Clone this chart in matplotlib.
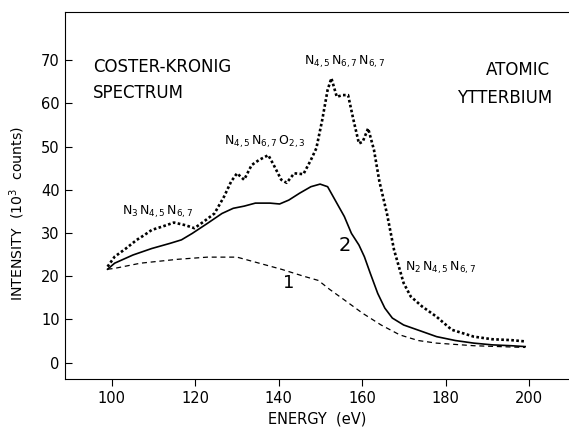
import numpy as np
import matplotlib
matplotlib.use("Agg")
import matplotlib.pyplot as plt

plt.rcParams['font.family'] = ['DejaVu Sans']
plt.rcParams['mathtext.fontset'] = 'dejavusans'

# measured spectrum (dots)
e_meas = [99, 100.7, 103.4, 106, 107.8, 109.6, 112.2, 114.9, 117.6, 119.8, 122, 124.6,
          126.9, 128.6, 130, 131.7, 133.5, 135.3, 137.5, 138.8, 140.6, 141.9, 143.7,
          145.9, 147.7, 149, 150.4, 151.7, 152.6, 153.9, 155.3, 156.6, 157.9, 159.2,
          160.1, 161.4, 162.8, 164.1, 165.9, 167.6, 169.9, 171.6, 174.3, 177.8, 181.4,
          186.7, 191.1, 195.6, 199]
i_meas = [22.2, 24.5, 26.4, 28.4, 29.5, 30.7, 31.5, 32.4, 31.8, 31.1, 32.6, 34.5,
          38.4, 41.9, 43.8, 42.3, 45.7, 46.9, 48.0, 45.7, 42.3, 41.6, 43.8,
          43.6, 46.9, 49.6, 56.1, 63.1, 65.8, 61.5, 61.9, 61.9, 56.1, 50.7,
          51.1, 54.2, 49.2, 41.9, 34.5, 26.1, 18.4, 15.3, 13.0, 10.6, 7.6,
          6.0, 5.4, 5.2, 4.9]

# curve 2 (solid)
e_c2 = [99, 100.7, 105.1, 109.6, 114, 116.7, 119.3, 122.9, 126.4, 129.1, 131.7, 134.4,
        137.9, 140.2, 142.4, 145, 147.7, 149.9, 151.7, 153.9, 155.7, 157.4, 159.2,
        160.5, 161.9, 163.7, 165.4, 167.2, 169.9, 174.3, 177.8, 182.3, 186.7, 191.1,
        195.6, 199]
i_c2 = [21.6, 23.0, 24.9, 26.4, 27.6, 28.4, 29.9, 32.2, 34.5, 35.7, 36.2, 36.9,
        36.9, 36.7, 37.6, 39.2, 40.7, 41.3, 40.7, 36.9, 33.8, 29.9, 27.2,
        24.5, 20.7, 16.0, 12.6, 10.3, 8.7, 7.2, 6.0, 5.1, 4.5, 4.1,
        3.9, 3.7]

# curve 1 (dashed)
e_c1 = [99, 100.7, 106.9, 115.8, 122.9, 130, 135.3, 140.6, 145.9, 149.5, 152.1, 155.7,
        160.1, 164.5, 169, 173.4, 177.8, 186.7, 199]
i_c1 = [21.6, 21.8, 23.0, 23.9, 24.4, 24.4, 23.0, 21.6, 20.0, 19.0, 17.0, 14.5,
        11.4, 8.7, 6.4, 5.1, 4.5, 3.9, 3.5]

fig = plt.figure(figsize=(5.69, 4.28), dpi=100)
ax = fig.add_axes([0.1134, 0.1145, 0.8866, 0.8582])

ax.plot(e_meas, i_meas, color='black', linewidth=1.9, linestyle=(0, (1, 0.9)))
ax.plot(e_c2, i_c2, color='black', linewidth=1.2)
ax.plot(e_c1, i_c1, color='black', linewidth=0.9, linestyle=(0, (4, 3)))

ax.set_xlim(88.7, 209.5)
ax.set_ylim(-3.8, 81.2)
ax.set_xticks([100, 120, 140, 160, 180, 200])
ax.set_yticks([0, 10, 20, 30, 40, 50, 60, 70])
ax.tick_params(axis='y', direction='in', length=5, labelsize=10.5)
ax.tick_params(axis='x', direction='out', length=5, labelsize=10.5)
ax.spines['right'].set_visible(False)

ax.set_xlabel('ENERGY  (eV)', fontsize=10.5)
ax.set_ylabel('INTENSITY  (10$^3$  counts)', fontsize=10.2)
ax.yaxis.set_label_coords(-0.074, 0.45)

ax.text(95.5, 68.4, 'COSTER-KRONIG', fontsize=12, va='center', ha='left')
ax.text(95.5, 62.4, 'SPECTRUM', fontsize=12, va='center', ha='left')
ax.text(205, 67.7, 'ATOMIC', fontsize=12, va='center', ha='right')
ax.text(205.5, 61.2, 'YTTERBIUM', fontsize=12, va='center', ha='right')

ax.text(155.9, 69.5, r'$\mathrm{N_{4,5}\,N_{6,7}\,N_{6,7}}$', fontsize=9, ha='center', va='center')
ax.text(136.7, 51.0, r'$\mathrm{N_{4,5}\,N_{6,7}\,O_{2,3}}$', fontsize=9, ha='center', va='center')
ax.text(111.1, 34.8, r'$\mathrm{N_3\,N_{4,5}\,N_{6,7}}$', fontsize=9, ha='center', va='center')
ax.text(178.7, 21.9, r'$\mathrm{N_2\,N_{4,5}\,N_{6,7}}$', fontsize=9, ha='center', va='center')
ax.text(155.9, 27, '2', fontsize=14, ha='center', va='center')
ax.text(142.3, 18.4, '1', fontsize=13, ha='center', va='center')

fig.savefig('out.png', dpi=100)
